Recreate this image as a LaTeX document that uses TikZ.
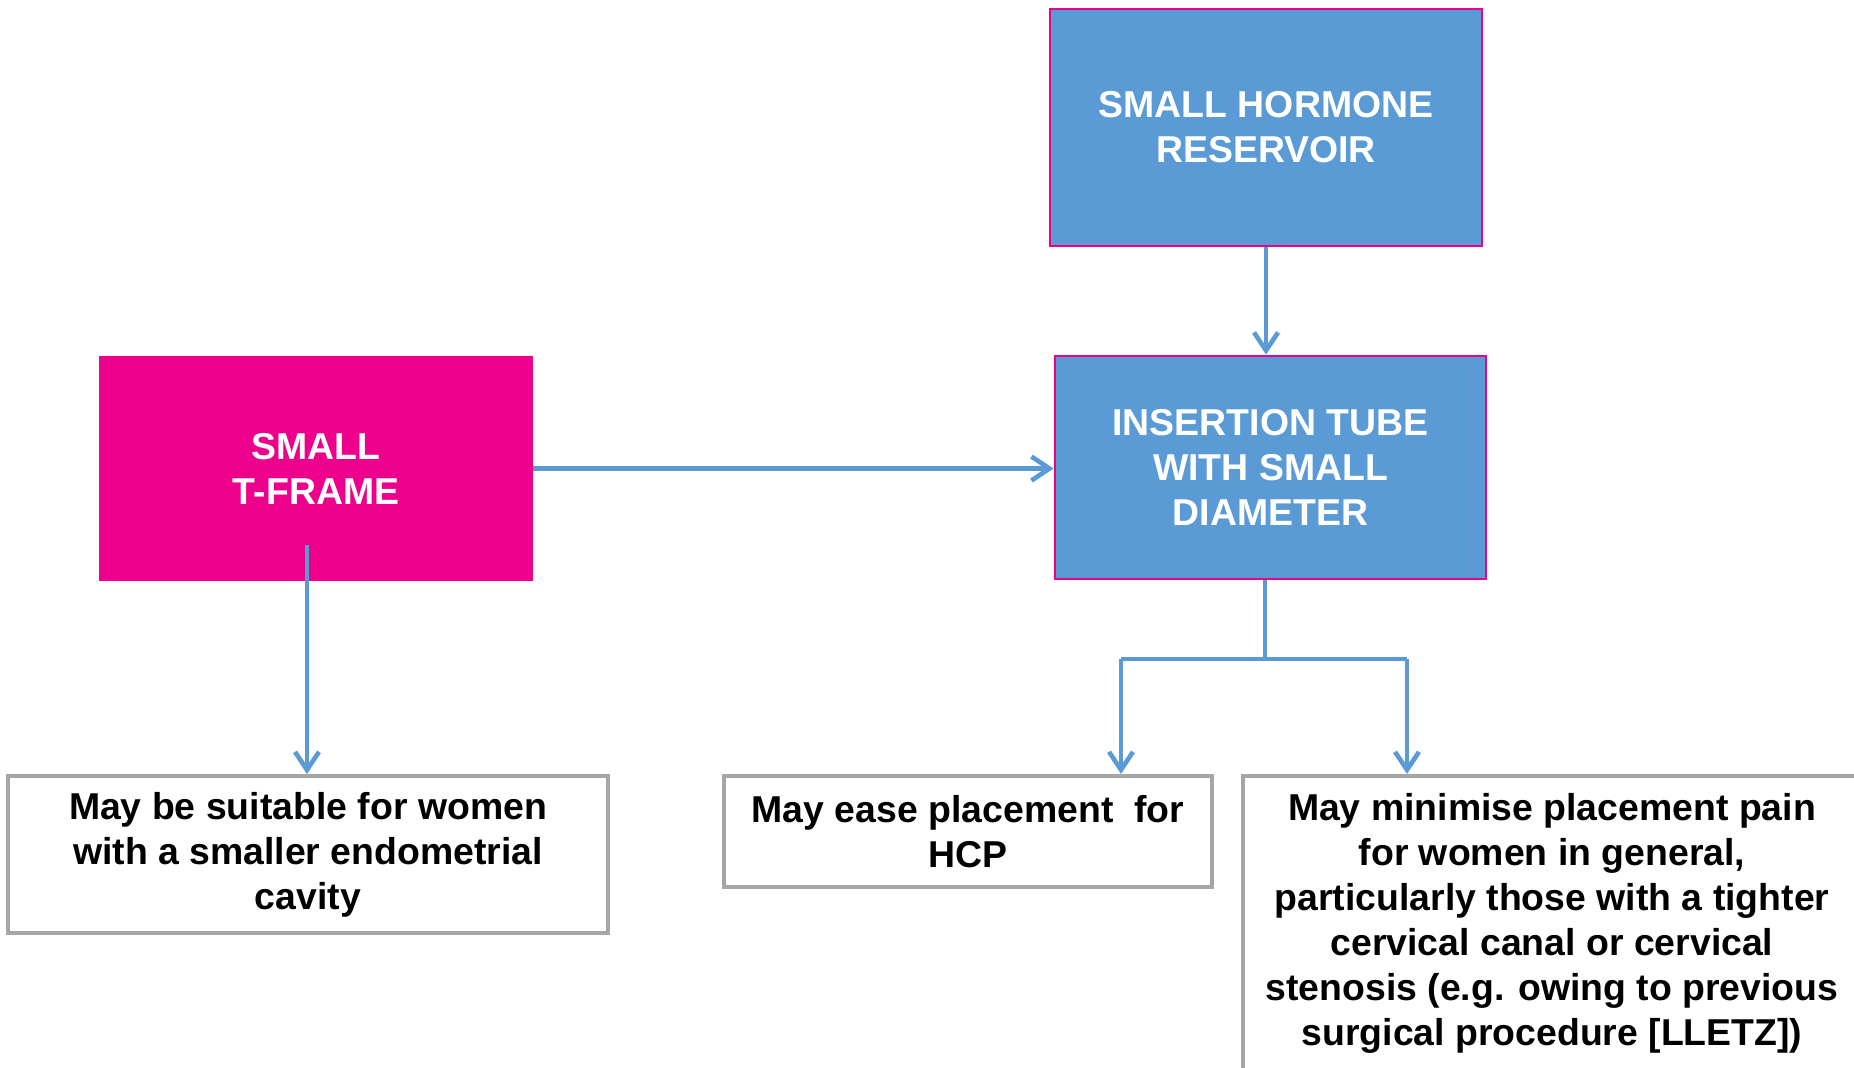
\documentclass[tikz,border=0pt]{standalone}
\usepackage{fontspec}
\setmainfont{Liberation Sans}
\usetikzlibrary{arrows.meta}
\definecolor{boxblue}{HTML}{5B9BD5}
\definecolor{boxpink}{HTML}{EC008C}
\definecolor{boxgrey}{HTML}{A6A6A6}
\begin{document}
\begin{tikzpicture}[x=0.5pt,y=-0.5pt,
  txt/.style={font=\fontsize{18.7pt}{22.5pt}\selectfont\bfseries, align=center, inner sep=0pt},
  bluebox/.style={txt, fill=boxblue, draw=boxpink, line width=1.4pt, text=white},
  pinkbox/.style={txt, fill=boxpink, draw=none, text=white},
  greybox/.style={txt, fill=white, draw=boxgrey, line width=2pt, text=black},
  conn/.style={draw=boxblue, line width=2.3pt},
  arr/.style={conn, -{Straight Barb[length=9pt,width=12pt,line width=2.3pt]}}]
\useasboundingbox (0,0) rectangle (1854,1067);
\fill[white] (0,0) rectangle (1854,1067);

\node[bluebox, minimum width=216pt, minimum height=118.5pt] (top) at (1266,127.5) {SMALL HORMONE\\RESERVOIR};
\node[bluebox, minimum width=215.5pt, minimum height=111.5pt] (ins) at (1270.5,467.5) {INSERTION TUBE\\WITH SMALL\\DIAMETER};
\node[pinkbox, minimum width=217pt, minimum height=112.5pt] (pink) at (316,468.5) {SMALL\\T-FRAME};

\node[greybox, minimum width=300pt, minimum height=78.5pt] (bl) at (308,854.5) {May be suitable for women\\with a smaller endometrial\\cavity};
\node[greybox, minimum width=244pt, minimum height=55.5pt] (bm) at (968,831.5) {May ease placement\ \ for\\HCP};
\node[greybox, minimum width=309pt, minimum height=147pt] (br) at (1552,923) {May minimise placement pain\\for women in general,\\particularly those with a tighter\\cervical canal or cervical\\stenosis (e.g. owing to previous\\surgical procedure [LLETZ])};

\coordinate (pk) at (307,545);
\coordinate (split) at (1265,659);
\coordinate (lft) at (1121,659);
\coordinate (rgt) at (1407,659);

\draw[arr] (top.south) -- (top.south |- ins.north);
\draw[arr] (pink.east) -- (pink.east -| ins.west);
\draw[arr] (pk) -- (pk |- bl.north);
\draw[conn] (ins.south -| split) -- (split);
\draw[conn] (lft) -- (rgt);
\draw[arr] (lft) -- (lft |- bm.north);
\draw[arr] (rgt) -- (rgt |- br.north);
\end{tikzpicture}
\end{document}
